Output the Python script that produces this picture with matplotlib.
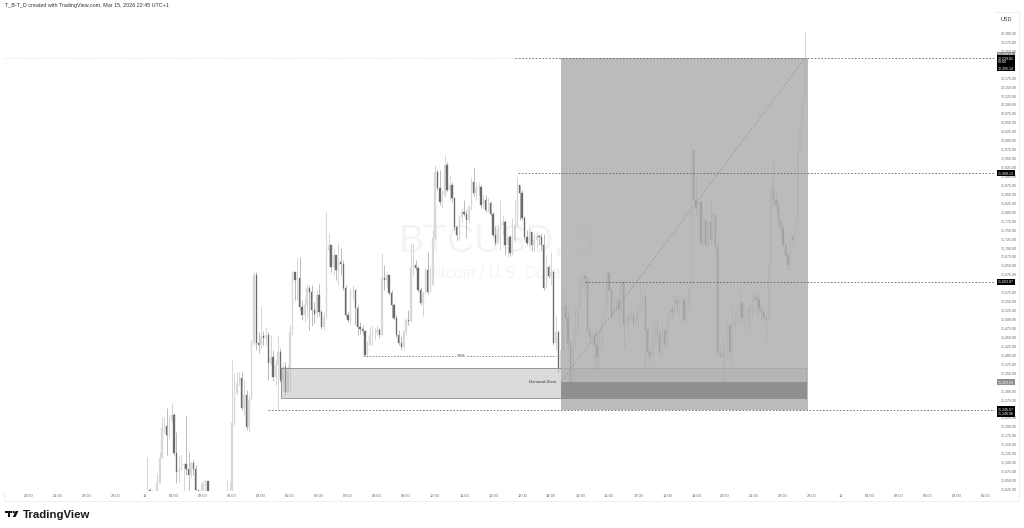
import matplotlib
matplotlib.use("Agg")
import matplotlib.pyplot as plt
from matplotlib.patches import Rectangle, Circle, Polygon

plt.rcParams['font.family'] = ['Liberation Sans', 'DejaVu Sans']

first_open = 70990

closes = [71002,71022,71019,71002,71005,71042,71112,71196,71201,71176,71218,71232,
71126,71072,71078,71092,71095,71081,71064,71098,71081,71022,70999,71022,
71042,71047,70994,70980,70966,70966,70980,70980,70994,70999,
71022,71022,71210,71294,71322,71336,71252,71288,71198,71274,71434,71624,71434,
71428,71453,71448,71456,71378,71394,71338,71372,71408,71330,71366,71296,71364,71464,71632,
71610,71616,71534,71512,71540,71588,71576,71526,71515,71568,71520,71478,71506,71694,71708,71646,71680,71638,71660,71655,
71588,71512,71498,71582,71582,71532,71478,71473,71467,71400,71428,71456,71464,71464,71470,71456,71616,71610,71624,71574,
71540,71504,71456,71434,71422,71464,71498,71495,71646,71652,71644,71582,71546,71574,71638,71576,71596,71728,71912,71868,
71828,71848,71932,71862,71876,71840,71758,71736,71786,71800,71795,71778,71814,71882,71854,71868,71870,71820,71834,71806,
71826,71795,71736,71714,71750,71764,71772,71708,71730,71686,71722,71764,71876,71854,71784,71730,71714,71744,71708,71722,
71733,71730,71708,71588,71646,71621,71632,71434,71464,71364,71414,71537,71504,71434,71316,71428,71470,71532,71610,71621,
71613,71470,71450,71456,71428,71394,71462,71498,71540,71630,71582,71506,71540,71554,71526,71604,71484,71504,71498,71512,
71490,71498,71526,71540,71562,71470,71408,71400,71462,71467,71456,71408,71470,71428,71498,71526,71520,71554,71546,71554,
71554,71498,71540,71588,71974,71834,71812,71828,71714,71778,71708,71772,71722,71792,71702,71406,71400,71397,71408,71484,
71408,71484,71498,71526,71546,71504,71520,71526,71520,71554,71562,71554,71532,71520,71504,71498,71658,71862,71834,71820,
71778,71756,71708,71680,71652,71730,71722,71778,71966,72030,72114,72229]

highs = [71011,71114,71028,71016,71022,71070,71128,71226,71226,71252,71229,71266,
71238,71184,71120,71120,71098,71232,71128,71100,71106,71092,71016,71042,
71050,71053,71008,70994,70980,70980,70994,70994,71008,71016,
71050,71044,71386,71350,71352,71352,71352,71330,71302,71288,71442,71632,71632,
71464,71537,71467,71478,71464,71456,71414,71386,71456,71420,71380,71380,71372,71484,71632,
71632,71674,71674,71554,71560,71596,71596,71596,71548,71582,71599,71526,71520,71800,71742,71708,71700,71672,71714,71700,
71666,71596,71520,71588,71596,71582,71540,71492,71484,71470,71439,71478,71484,71476,71484,71476,71686,71652,71632,71624,
71582,71546,71512,71470,71453,71470,71504,71526,71714,71714,71666,71649,71590,71579,71644,71688,71644,71750,71932,71918,
71918,71862,71960,71938,71904,71882,71842,71764,71792,71812,71834,71806,71820,71896,71926,71882,71882,71876,71848,71848,
71840,71831,71800,71761,71764,71834,71792,71778,71733,71736,71784,71834,71898,71876,71862,71789,71750,71756,71744,71744,
71744,71739,71742,71739,71680,71652,71688,71638,71512,71470,71428,71582,71554,71526,71442,71470,71540,71554,71616,71627,
71632,71621,71484,71476,71484,71470,71476,71504,71554,71635,71635,71588,71568,71568,71582,71616,71610,71512,71520,71526,
71520,71526,71540,71604,71576,71571,71476,71420,71498,71492,71498,71470,71484,71464,71512,71540,71540,71568,71568,71560,
71568,71560,71554,71596,71988,71974,71904,71834,71834,71792,71772,71778,71840,71800,71798,71728,71428,71442,71428,71498,
71490,71540,71526,71540,71588,71554,71540,71532,71540,71576,71582,71576,71568,71540,71526,71512,71672,71876,71940,71862,
71834,71778,71764,71714,71688,71744,71736,71792,71988,72044,72128,72302]

lows = [70994,71002,71008,70994,70994,71002,71042,71112,71182,71120,71168,71210,
71117,71042,71045,71078,71022,71064,71022,71056,71064,71008,70988,70999,
70994,71016,70980,70966,70952,70952,70966,70966,70980,70994,
70999,70999,71016,71204,71288,71316,71246,71232,71190,71184,71288,71428,71414,
71406,71420,71428,71428,71330,71372,71327,71316,71246,71324,71302,71288,71296,71302,71456,
71554,71554,71526,71498,71492,71504,71470,71481,71490,71504,71509,71473,71470,71504,71646,71632,71624,71610,71596,71624,
71582,71506,71492,71484,71554,71484,71456,71459,71456,71397,71400,71434,71428,71442,71456,71448,71456,71582,71590,71568,
71504,71498,71450,71428,71414,71414,71456,71484,71492,71624,71638,71576,71540,71509,71574,71571,71582,71596,71722,71862,
71820,71812,71842,71856,71834,71828,71750,71722,71722,71772,71789,71728,71772,71806,71845,71834,71848,71812,71812,71800,
71800,71789,71730,71708,71714,71694,71736,71680,71674,71677,71680,71716,71758,71778,71778,71722,71708,71702,71694,71694,
71700,71708,71694,71582,71596,71616,71596,71428,71414,71352,71358,71414,71492,71414,71302,71308,71420,71464,71526,71582,
71576,71464,71436,71428,71358,71352,71352,71414,71484,71532,71576,71498,71498,71512,71484,71520,71420,71476,71470,71492,
71476,71484,71484,71520,71532,71336,71386,71380,71336,71428,71442,71392,71400,71420,71422,71484,71492,71512,71520,71512,
71526,71492,71492,71532,71582,71820,71792,71800,71708,71700,71700,71702,71708,71714,71694,71397,71392,71324,71344,71386,
71392,71358,71464,71484,71504,71492,71470,71462,71484,71504,71520,71512,71520,71498,71492,71436,71492,71652,71820,71800,
71764,71736,71694,71666,71638,71644,71694,71708,71772,71960,72024,72114]

assert len(closes) == len(highs) == len(lows)

hidden_ticks = [72225, 72200, 71600, 71325, 71250]
price_ticks = [p for p in range(72300, 71000, -25) if p not in hidden_ticks]
hour_labels = ['20:00','21:00','22:00','23:00','15','01:00','02:00','03:00','04:00','05:00','06:00','07:00',
               '08:00','09:00','10:00','11:00','12:00','13:00','14:00','15:00','16:00','17:00','18:00','19:00',
               '20:00','21:00','22:00','23:00','16','01:00','02:00','03:00','04:00','05:00']
hour_bars = [-48 + 12 * k for k in range(len(hour_labels))]

target = 72229.81
entry_level = 71908.13
mid_level = 71603.87
stop_level = 71245.57
sss_level = 71398
zone_top = 71363
zone_bottom = 71279
entry = 71323.50
last_price = 72205.14
low_label = 71240.96
grey_label = 72239.50

fig = plt.figure(figsize=(10.24, 5.28), dpi=100, facecolor='white')
L, R, T, B = 4, 995, 12, 491
ax = fig.add_axes([L/1024, 1-B/528, (R-L)/1024, (B-T)/528])
ax.set_xlim((L-145)/2.417, (R-145)/2.417)
ax.set_ylim(71025-2*2.796, 72300+21*2.796)

# watermark
ax.text(0.497, 0.52, 'BTCUSD, 5', transform=ax.transAxes, fontsize=27, color='#f4f4f4',
        ha='center', va='center', zorder=0)
ax.text(0.497, 0.455, 'Bitcoin / U.S. Dollar', transform=ax.transAxes, fontsize=11.5, color='#f4f4f4',
        ha='center', va='center', zorder=0)

# candles
opens = [first_open] + closes[:-1]
idx = list(range(len(closes)))
hi = [max(h, o, c) for h, o, c in zip(highs, opens, closes)]
lo = [min(l, o, c) for l, o, c in zip(lows, opens, closes)]
up = [c >= o for o, c in zip(opens, closes)]
wick_col = ['#cccccc' if u else '#a8a8a8' for u in up]
body_col = ['#d8d8d8' if u else '#6c6c6c' for u in up]
ax.vlines(idx, lo, hi, colors=wick_col, linewidth=0.55, zorder=2)
ax.bar(idx, [abs(c-o) for o, c in zip(opens, closes)], bottom=[min(o, c) for o, c in zip(opens, closes)],
       width=0.55, color=body_col, edgecolor=body_col, linewidth=0.25, zorder=3)

# demand zone
box_l, box_r = 172.1, 274.3
zone_l, zone_r = (281-145)/2.417, (806-145)/2.417
ax.add_patch(Rectangle((zone_l, zone_bottom), zone_r-zone_l, zone_top-zone_bottom, fc='#b0b0b0', alpha=0.45,
                       ec='none', zorder=4))
ax.add_patch(Rectangle((zone_l, zone_bottom), zone_r-zone_l, zone_top-zone_bottom, fc='none', ec='#8a8a8a',
                       lw=0.6, zorder=4))
# position box
ax.add_patch(Rectangle((box_l, stop_level), box_r-box_l, target-stop_level, fc='#aeaeae', alpha=0.84, ec='none', zorder=5))
ax.add_patch(Rectangle((box_l, zone_bottom), zone_r-box_l, entry-zone_bottom, fc='#404040', alpha=0.32,
                       ec='#666666', lw=0.5, zorder=6))
ax.plot([box_l, 273], [entry, target], color='#989898', lw=0.7, dashes=(1.5, 2), zorder=7)

# level lines
ax.plot([ax.get_xlim()[0]+0.4, (515-145)/2.417], [target, target], color='#c8c8c8', lw=0.5, dashes=(1, 2), zorder=1)
for level, start_px in [(target, 515), (entry_level, 518), (mid_level, 585), (stop_level, 268)]:
    ax.plot([(start_px-145)/2.417, ax.get_xlim()[1]], [level, level], color='#5a5a5a', lw=0.55,
            dashes=(2.2, 2.2), zorder=8)
ax.plot([(363-145)/2.417, (556-145)/2.417], [sss_level, sss_level], color='#5a5a5a', lw=0.5, dashes=(2.2, 2.2), zorder=8)
ax.text((461-145)/2.417, sss_level, 'SSS', fontsize=3.2, color='#444444', ha='center', va='center', zorder=9,
        bbox=dict(fc='white', ec='none', pad=0.8))
ax.text((543-145)/2.417, 71325, 'Demand Zone', fontsize=3.2, style='italic', color='#333333', ha='center',
        va='center', zorder=9)

# axes
for s in ax.spines.values():
    s.set_visible(False)
ax.set_yticks(price_ticks)
ax.set_yticklabels([f'{p:,.2f}' for p in price_ticks], fontsize=2.6, color='#666666')
ax.yaxis.tick_right()
ax.tick_params(axis='y', length=0, pad=4)
ax.set_xticks(hour_bars)
ax.set_xticklabels(hour_labels, fontsize=2.8, color='#666666')
ax.tick_params(axis='x', length=0, pad=2.2)

# price tags
tr = ax.get_yaxis_transform()
def tag(level, text, fc='black', tc='white', dy=0):
    ax.text(1.0033, level+dy, text, transform=tr, fontsize=2.6, color=tc, ha='left', va='center', zorder=20,
            clip_on=False, linespacing=0.9, bbox=dict(fc=fc, ec='none', pad=0.7))
tag(grey_label, f'{grey_label:,.2f}', fc='#8e8e8e')
tag(target, f'{target:,.2f}\n00:00', dy=-5)
tag(last_price, f'{last_price:,.2f}', dy=-4)
tag(entry_level, f'{entry_level:,.2f}')
tag(mid_level, f'{mid_level:,.2f}')
tag(entry, f'{entry:,.2f}', fc='#8e8e8e')
tag(stop_level, f'{stop_level:,.2f}', dy=2)
tag(low_label, f'{low_label:,.2f}', dy=-6)

# overlay in figure pixels: frame, header and logo
ov = fig.add_axes([0, 0, 1, 1], zorder=-1)
ov.set_xlim(0, 1024)
ov.set_ylim(528, 0)
ov.axis('off')
ov.plot([4, 4, 1019, 1019, 4], [12, 501, 501, 12, 12], color='#ececec', lw=0.6)
top = fig.add_axes([0, 0, 1, 1], zorder=30)
top.set_xlim(0, 1024)
top.set_ylim(528, 0)
top.axis('off')
top.patch.set_alpha(0)
top.text(5, 6, 'T_B-T_D created with TradingView.com, Mar 15, 2026 22:45 UTC+1', fontsize=3.9,
         color='#333333', ha='left', va='center')
top.text(1006, 19.5, 'USD', fontsize=4, color='#444444', ha='center', va='center')
top.text(22.5, 514.8, 'TradingView', fontsize=8.2, weight='bold', color='#1a1a1a', ha='left', va='center')
top.add_patch(Rectangle((5.2, 511), 7, 2.2, fc='#111111', ec='none'))
top.add_patch(Rectangle((8, 511), 2.4, 6, fc='#111111', ec='none'))
top.add_patch(Circle((13.7, 512.1), 1.15, fc='#111111', ec='none'))
top.add_patch(Polygon([[15.6, 511], [18.4, 511], [15.6, 517], [12.8, 517]], fc='#111111', ec='none'))

fig.savefig('out.png', dpi=100, facecolor='white')
